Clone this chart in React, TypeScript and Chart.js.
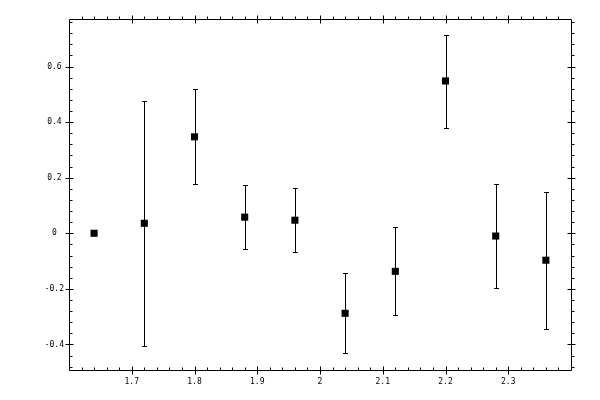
import React, { useEffect, useRef } from "react";
import { Chart, registerables } from "chart.js";

Chart.register(...registerables);

const xValues = [1.64, 1.72, 1.8, 1.88, 1.96, 2.04, 2.12, 2.2, 2.28, 2.36];
const yValues = [0, 0.036, 0.347, 0.058, 0.047, -0.288, -0.137, 0.548, -0.01, -0.097];
const yLow = [0, -0.407, 0.177, -0.057, -0.068, -0.432, -0.295, 0.379, -0.198, -0.346];
const yHigh = [0, 0.476, 0.52, 0.173, 0.163, -0.144, 0.022, 0.714, 0.177, 0.148];

const xMajorTicks = [1.7, 1.8, 1.9, 2.0, 2.1, 2.2, 2.3];
const yMajorTicks = [-0.4, -0.2, 0, 0.2, 0.4, 0.6];
const xMinorStep = 0.02;
const yMinorStep = 0.04;
const xMin = 1.6;
const xMax = 2.4;
const yMin = -0.492;
const yMax = 0.771;

const fmt = (v: number) => String(Number(v.toFixed(1)));

function minorValues(min: number, max: number, step: number, majors: number[]) {
  const out: number[] = [];
  const start = Math.ceil(min / step - 1e-9);
  const end = Math.floor(max / step + 1e-9);
  for (let i = start; i <= end; i++) {
    const v = i * step;
    if (v <= min + 1e-9 || v >= max - 1e-9) continue;
    if (majors.some((m) => Math.abs(m - v) < 1e-6)) continue;
    out.push(v);
  }
  return out;
}

const errorBarPlugin = {
  id: "errorBars",
  afterDatasetsDraw(chart: any) {
    const ctx = chart.ctx;
    const xs = chart.scales.x;
    const ys = chart.scales.y;
    ctx.save();
    ctx.strokeStyle = "#000";
    ctx.lineWidth = 1;
    ctx.beginPath();
    for (let i = 0; i < xValues.length; i++) {
      if (yLow[i] === yHigh[i]) continue;
      const px = Math.round(xs.getPixelForValue(xValues[i])) + 0.5;
      const pt = Math.round(ys.getPixelForValue(yHigh[i])) + 0.5;
      const pb = Math.round(ys.getPixelForValue(yLow[i])) + 0.5;
      ctx.moveTo(px, pt);
      ctx.lineTo(px, pb);
      ctx.moveTo(px - 2.5, pt);
      ctx.lineTo(px + 2.5, pt);
      ctx.moveTo(px - 2.5, pb);
      ctx.lineTo(px + 2.5, pb);
    }
    ctx.stroke();
    ctx.restore();
  },
};

const framePlugin = {
  id: "frameTicks",
  afterDraw(chart: any) {
    const ctx = chart.ctx;
    const xs = chart.scales.x;
    const ys = chart.scales.y;
    const { left, right, top, bottom } = chart.chartArea;
    const L = Math.round(left) + 0.5;
    const R = Math.round(right) + 0.5;
    const T = Math.round(top) + 0.5;
    const B = Math.round(bottom) + 0.5;
    ctx.save();
    ctx.strokeStyle = "#000";
    ctx.lineWidth = 1;
    ctx.beginPath();
    ctx.rect(L, T, R - L, B - T);
    const xMinors = minorValues(xMin, xMax, xMinorStep, xMajorTicks);
    for (const v of xMinors) {
      const px = Math.round(xs.getPixelForValue(v)) + 0.5;
      ctx.moveTo(px, B);
      ctx.lineTo(px, B - 3);
      ctx.moveTo(px, T);
      ctx.lineTo(px, T - 3);
    }
    for (const v of xMajorTicks) {
      const px = Math.round(xs.getPixelForValue(v)) + 0.5;
      ctx.moveTo(px, B - 4);
      ctx.lineTo(px, B + 4);
      ctx.moveTo(px, T - 4);
      ctx.lineTo(px, T + 4);
    }
    const yMinors = minorValues(yMin, yMax, yMinorStep, yMajorTicks);
    for (const v of yMinors) {
      const py = Math.round(ys.getPixelForValue(v)) + 0.5;
      ctx.moveTo(L, py);
      ctx.lineTo(L + 3, py);
      ctx.moveTo(R, py);
      ctx.lineTo(R + 3, py);
    }
    for (const v of yMajorTicks) {
      const py = Math.round(ys.getPixelForValue(v)) + 0.5;
      ctx.moveTo(L - 4, py);
      ctx.lineTo(L + 4, py);
      ctx.moveTo(R - 4, py);
      ctx.lineTo(R + 4, py);
    }
    ctx.stroke();
    ctx.restore();
  },
};

export default function App() {
  const canvasRef = useRef<HTMLCanvasElement | null>(null);

  useEffect(() => {
    if (!canvasRef.current) return;
    const font = { family: "'DejaVu Sans Mono', monospace", size: 8 };
    const chart = new Chart(canvasRef.current, {
      type: "scatter",
      data: {
        datasets: [
          {
            data: xValues.map((x, i) => ({ x, y: yValues[i] })),
            pointStyle: "rect",
            pointRadius: 5,
            pointBackgroundColor: "#000",
            pointBorderWidth: 0,
            pointBorderColor: "#000",
            showLine: false,
          },
        ],
      },
      options: {
        animation: false,
        responsive: false,
        devicePixelRatio: 1,
        layout: { padding: { left: 0, right: 29, top: 19, bottom: 0 } },
        plugins: {
          legend: { display: false },
          tooltip: { enabled: false },
        },
        scales: {
          x: {
            type: "linear",
            min: xMin,
            max: xMax,
            border: { display: false },
            grid: { display: false, drawTicks: false },
            afterBuildTicks: (scale: any) => {
              scale.ticks = xMajorTicks.map((v) => ({ value: v }));
            },
            afterFit: (scale: any) => {
              scale.height = 30;
            },
            ticks: {
              color: "#000",
              font,
              padding: 7,
              maxRotation: 0,
              autoSkip: false,
              callback: (v: any) => fmt(Number(v)),
            },
          },
          y: {
            type: "linear",
            min: yMin,
            max: yMax,
            border: { display: false },
            grid: { display: false, drawTicks: false },
            afterBuildTicks: (scale: any) => {
              scale.ticks = yMajorTicks.map((v) => ({ value: v }));
            },
            afterFit: (scale: any) => {
              scale.width = 69;
            },
            ticks: {
              color: "#000",
              font,
              padding: 5,
              crossAlign: "center",
              autoSkip: false,
              callback: (v: any) => fmt(Number(v)),
            },
          },
        },
      },
      plugins: [errorBarPlugin, framePlugin],
    } as any);
    return () => chart.destroy();
  }, []);

  return (
    <div style={{ position: "fixed", left: 0, top: 0, width: 600, height: 400, background: "#fff" }}>
      <canvas ref={canvasRef} width={600} height={400} style={{ width: 600, height: 400 }} />
    </div>
  );
}
